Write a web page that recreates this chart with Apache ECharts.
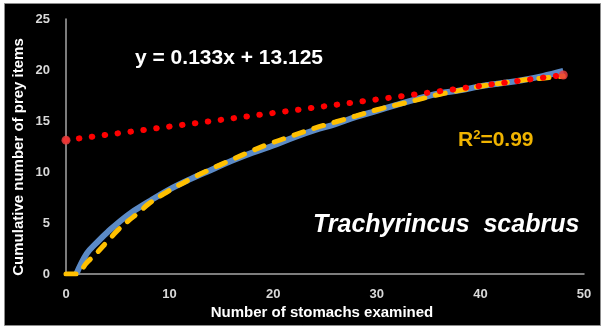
<!DOCTYPE html>
<html><head><meta charset="utf-8">
<script src="https://cdn.jsdelivr.net/npm/echarts@6/dist/echarts.min.js"></script>
<style>html,body{margin:0;padding:0;background:#fff}#c{width:605px;height:329px}</style>
</head><body><div id="c"></div>
<script>
// Observed cumulative curve (blue)
const blueX = [1,2,3,4,6,8,10,12,14,16,18,20,22,24,26,28,30,32,34,36,38,40,42,44,46,48];
const blueY = [0,2.0,3.1,4.1,5.8,7.1,8.3,9.3,10.2,11.1,11.9,12.6,13.4,14.1,14.7,15.4,16.0,16.6,17.2,17.7,18.0,18.4,18.7,19.0,19.4,19.9];
// Fitted curve (yellow dashed)
const fitX = [0,1,2,3,4,5,6,7,8,10,12,14,16,18,20,22,24,26,28,30,32,34,36,38,40,42,44,46,48];
const fitY = [0,0,1.1,2.1,3.2,4.3,5.2,6.0,6.9,8.2,9.3,10.3,11.2,12.1,12.9,13.6,14.3,14.9,15.5,16.1,16.6,17.1,17.6,18.0,18.4,18.7,19.0,19.2,19.4];
// Linear trend (red dotted)
const trendX = [0,48];
const trendY = [13.125,19.509];
const xTicks = [0,10,20,30,40,50];
const yTicks = [0,5,10,15,20,25];
const eqText = 'y = 0.133x + 13.125';
const r2Text = '0.99';
const speciesText = 'Trachyrincus  scabrus';
const xTitle = 'Number of stomachs examined';
const yTitle = 'Cumulative number of prey items';

const zip = (xs, ys) => xs.map((x, i) => [x, ys[i]]);
const trendData = zip(trendX, trendY).map((p) => ({value: p, symbol: 'circle', symbolSize: 9,
  itemStyle: {color: 'rgba(235,60,60,0.85)'}}));

const chart = echarts.init(document.getElementById('c'), null, {renderer: 'canvas'});
const FONT = '"Liberation Sans", Arial, sans-serif';
chart.setOption({
  backgroundColor: '#ffffff',
  animation: false,
  grid: {left: 66, right: 21, top: 19, bottom: 55, containLabel: false},
  xAxis: {
    type: 'value', min: 0, max: 50, interval: 10,
    axisLine: {show: true, onZero: false, lineStyle: {color: '#a6a6a6', width: 1.5}},
    axisTick: {show: false}, splitLine: {show: false},
    axisLabel: {color: '#d9d9d9', fontFamily: FONT, fontWeight: 'bold', fontSize: 13, margin: 14,
      formatter: (v) => xTicks.includes(v) ? String(v) : ''}
  },
  yAxis: {
    type: 'value', min: 0, max: 25, interval: 5,
    axisLine: {show: true, lineStyle: {color: '#a6a6a6', width: 1.5}},
    axisTick: {show: false}, splitLine: {show: false},
    axisLabel: {color: '#d9d9d9', fontFamily: FONT, fontWeight: 'bold', fontSize: 13, margin: 16,
      formatter: (v) => yTicks.includes(v) ? String(v) : ''}
  },
  graphic: [
    {type: 'rect', z: -10, silent: true, shape: {x: 4.5, y: 3.5, width: 596, height: 322},
      style: {fill: '#000000', stroke: '#8c8c8c', lineWidth: 1}},
    {type: 'text', x: 322, y: 313, z: 100, style: {text: xTitle, fill: '#ffffff',
      font: 'bold 15px ' + FONT, align: 'center', verticalAlign: 'middle'}},
    {type: 'text', x: 19, y: 157, rotation: Math.PI / 2, z: 100, style: {text: yTitle, fill: '#ffffff',
      font: 'bold 15px ' + FONT, align: 'center', verticalAlign: 'middle'}},
    {type: 'text', left: 135, top: 48, z: 100, style: {text: eqText, fill: '#ffffff',
      font: 'bold 21px ' + FONT}},
    {type: 'text', left: 458, top: 129, z: 100, style: {
      text: '{r|R}{s|2}{r|=' + r2Text + '}',
      rich: {r: {fill: '#f0b400', font: 'bold 21px ' + FONT, verticalAlign: 'bottom'},
             s: {fill: '#f0b400', font: 'bold 13px ' + FONT, verticalAlign: 'top', padding: [0,0,9,0]}}}},
    {type: 'text', left: 313, top: 213, z: 100, style: {text: speciesText, fill: '#ffffff',
      font: 'italic bold 25px ' + FONT}}
  ],
  series: [
    {type: 'line', name: 'observed', data: zip(blueX, blueY), smooth: 0.4, showSymbol: false, z: 2,
      lineStyle: {color: '#5b8ac6', width: 6}},
    {type: 'line', name: 'fit', data: zip(fitX, fitY), smooth: 0.4, showSymbol: false, z: 3,
      lineStyle: {color: '#ffc000', width: 5, type: [10, 11], cap: 'round'}},
    {type: 'line', name: 'trend', data: trendData, showSymbol: true, z: 4,
      lineStyle: {color: '#ff0000', width: 6, type: [0.5, 12.5], cap: 'round'}}
  ]
});
</script></body></html>
